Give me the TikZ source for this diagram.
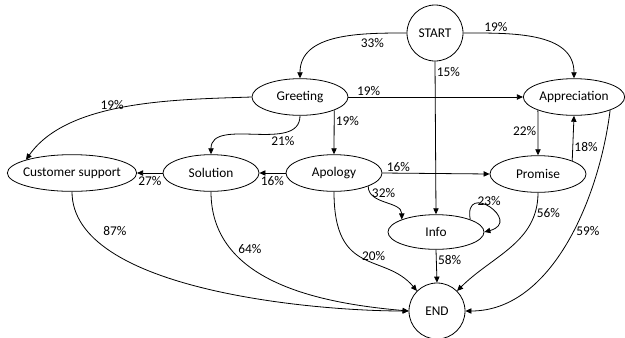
\documentclass[tikz,border=0pt]{standalone}
\usepackage{fontspec}
\setmainfont{Carlito}
\usetikzlibrary{shapes,arrows.meta}

\begin{document}
\begin{tikzpicture}[x=0.75pt,y=-0.75pt]
  \tikzstyle{state}=[ellipse,draw=black,line width=0.6pt,inner sep=0pt,minimum width=72pt,minimum height=27.5pt]
  \tikzstyle{term}=[circle,draw=black,line width=0.6pt,inner sep=0pt,minimum size=42pt]
  \tikzstyle{edge}=[-{Triangle[length=4.5pt,width=4pt]},line width=0.6pt]
  \tikzstyle{pct}=[inner sep=1pt]
  \useasboundingbox (0,0) rectangle (625,337);

  \draw (435,33) node[term] (S){START};
  \draw (437,311) node[term] (E){END};

  \draw (300,97) node[state] (G){Greeting};
  \draw (574,97) node[state,minimum width=76pt] (A){Appreciation};
  \draw (72,173) node[state,minimum width=97pt,inner xsep=-6pt] (C){Customer support};
  \draw (211,173) node[state] (So){Solution};
  \draw (334,173) node[state] (Ap){Apology};
  \draw (538,174) node[state] (P){Promise};
  \draw (436,232) node[state,minimum height=26pt] (I){Info};

  \draw[edge] (S.west) to[out=180,in=90] node[pos=0.24,below,inner sep=3pt] (sg){33\%} (G.north);
  \draw[edge] (S.east) to[out=0,in=90] node[pos=0.22,above,pct] (sa){19\%} (A.north);
  \draw[edge] (S.south) -- node[pos=0.07,right,pct] (si){15\%} (I.north);

  \draw[edge] (G.east) -- node[pos=0.04,above right,pct] (ga){19\%} (A.west);
  \draw[edge] (G.south east) -- node[pos=0.25,right,pct] (gap){19\%} (Ap.north);
  \draw[edge] (G.south) to[out=-90,in=90] node[pos=0.28,below,inner sep=2pt] (gs){21\%} (So.north);
  \draw[edge] (G.west) to[out=182,in=55,looseness=0.8] node[pos=0.56,above,inner sep=0pt] (gc){19\%} (C.north west);

  \draw[edge] (Ap.west) -- node[below,inner sep=2pt] (aps){16\%} (So.east);
  \draw[edge] (So.west) -- node[below,inner sep=2pt] (sc){27\%} (C.east);
  \draw[edge] (Ap.east) -- node[pos=0.15,above,pct] (app){16\%} (P.west);
  \draw[edge] (Ap.south east) to[out=-90,in=90] node[pos=0.15,right,pct] (api){32\%} (I.north west);
  \draw[edge] (Ap.south) to[out=-90,in=130,out looseness=1.7,in looseness=1] node[pos=0.6,above,inner sep=2pt] (ape){20\%} (E.north west);

  \draw[edge] (I.north east) .. controls +(-100:40) and +(-15:40) .. node[pos=0.5,above,pct] (ii){23\%} (I.east);
  \draw[edge] (I.south) -- node[pos=0.3,right,pct] (ie){58\%} (E.north);
  \draw[edge] (P.south) to[out=-90,in=45] node[pos=0.15,right,pct] (pe){56\%} (E.north east);

  \draw[edge] (A.south west) -- node[pos=0.45,left,pct] (ap2){22\%} (P.north);
  \draw[edge] (P.north east) -- node[pos=0.3,right,pct] (pa){18\%} (A.south);
  \draw[edge] (A.south east) to[out=-97,in=0,looseness=0.9] node[pos=0.45,right,inner sep=2pt] (ae){59\%} (E.east);

  \draw[edge] (C.south) to[out=-90,in=180,looseness=0.7] node[pos=0.2,above right,inner sep=4pt] (ce){87\%} (E.west);
  \draw[edge] (So.south) to[out=-90,in=175] node[pos=0.3,above right,pct] (se){64\%} (E.west);
\end{tikzpicture}
\end{document}
